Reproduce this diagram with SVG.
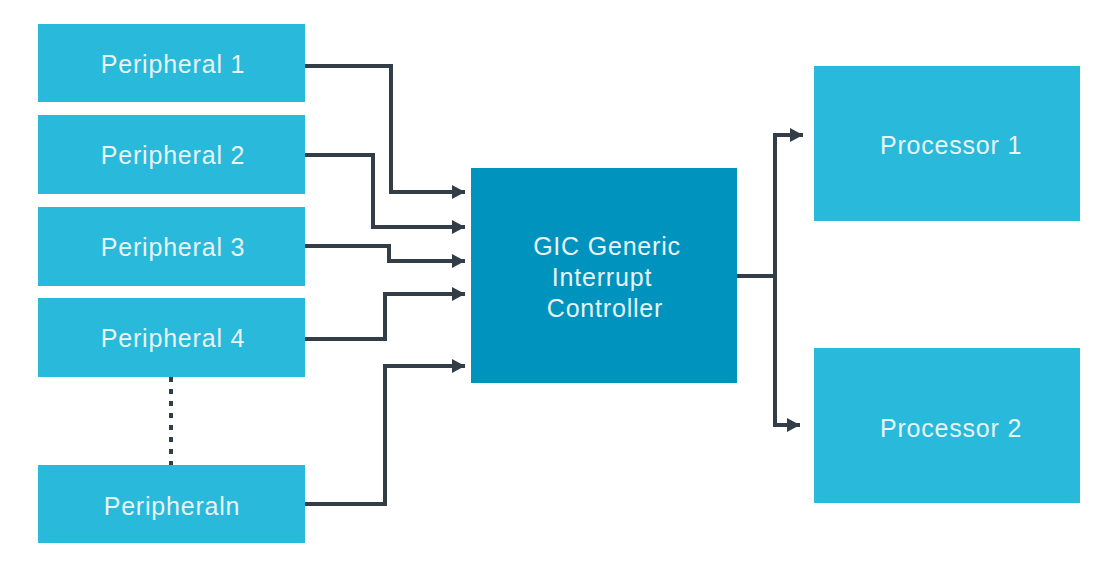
<svg xmlns="http://www.w3.org/2000/svg" width="1120" height="570" viewBox="0 0 1120 570">
<style>
.node{fill:#29B9DA}
.gic{fill:#0093BE}
.lbl{font-family:"Liberation Sans",Arial,sans-serif;font-size:25px;letter-spacing:0.8px;fill:#E8F4F8;text-anchor:middle}
.wire{fill:none;stroke:#333D47;stroke-width:4;stroke-linejoin:miter}
.dots{fill:none;stroke:#333D47;stroke-width:4;stroke-dasharray:5 7}
</style>
<defs>
<marker id="arr" markerUnits="userSpaceOnUse" markerWidth="14" markerHeight="16" refX="13" refY="7" orient="auto" overflow="visible">
<path d="M0,0 L13,7 L0,14 z" fill="#333D47"/>
</marker>
</defs>
<rect width="1120" height="570" fill="#FFFFFF"/>
<g id="connectors">
<path class="wire" d="M305,66 H391 V192 H465" marker-end="url(#arr)"/>
<path class="wire" d="M305,155 H373 V227 H465" marker-end="url(#arr)"/>
<path class="wire" d="M305,246 H389 V261 H465" marker-end="url(#arr)"/>
<path class="wire" d="M305,339 H385 V294 H465" marker-end="url(#arr)"/>
<path class="wire" d="M305,504 H385 V366 H465" marker-end="url(#arr)"/>
<path class="wire" d="M737,276 H775"/>
<path class="wire" d="M775,276 V135 H803" marker-end="url(#arr)"/>
<path class="wire" d="M775,276 V425 H800" marker-end="url(#arr)"/>
<path class="dots" d="M171,377 V465"/>
</g>
<g id="peripheral1"><rect class="node" x="38" y="24" width="267" height="78"/><text class="lbl" x="173" y="73">Peripheral 1</text></g>
<g id="peripheral2"><rect class="node" x="38" y="115" width="267" height="79"/><text class="lbl" x="173" y="164">Peripheral 2</text></g>
<g id="peripheral3"><rect class="node" x="38" y="207" width="267" height="79"/><text class="lbl" x="173" y="256">Peripheral 3</text></g>
<g id="peripheral4"><rect class="node" x="38" y="298" width="267" height="79"/><text class="lbl" x="173" y="347">Peripheral 4</text></g>
<g id="peripheraln"><rect class="node" x="38" y="465" width="267" height="78"/><text class="lbl" x="172" y="515">Peripheraln</text></g>
<g id="gic"><rect class="gic" x="471" y="168" width="266" height="215"/>
<text class="lbl" x="607" y="255">GIC Generic</text>
<text class="lbl" x="602" y="286">Interrupt</text>
<text class="lbl" x="605" y="317">Controller</text></g>
<g id="processor1"><rect class="node" x="814" y="66" width="266" height="155"/><text class="lbl" x="951" y="154">Processor 1</text></g>
<g id="processor2"><rect class="node" x="814" y="348" width="266" height="155"/><text class="lbl" x="951" y="437">Processor 2</text></g>
</svg>
